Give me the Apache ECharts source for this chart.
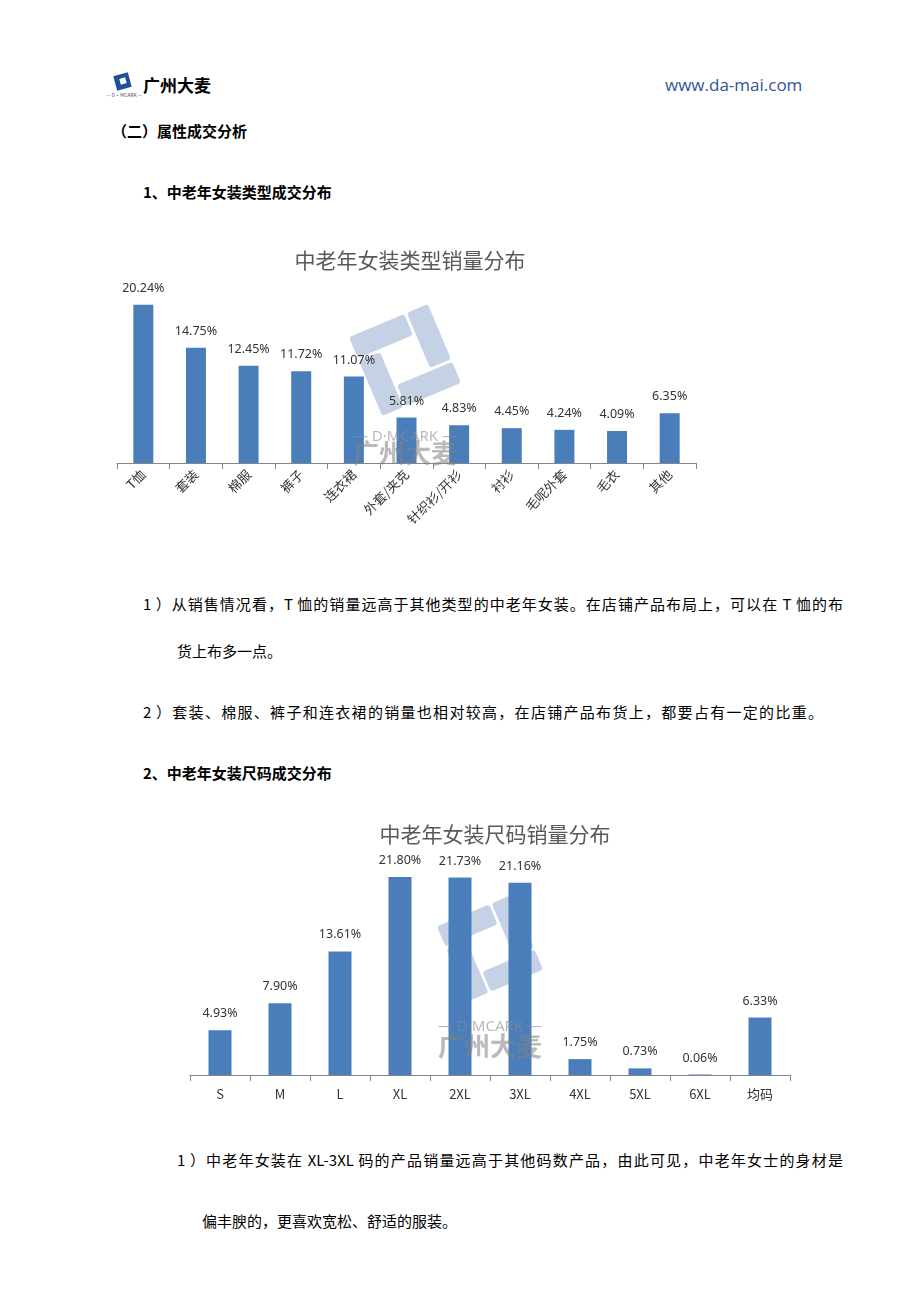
<!DOCTYPE html>
<html>
<head>
<meta charset="utf-8">
<script src="https://cdn.jsdelivr.net/npm/echarts@6/dist/echarts.min.js"></script>
<style>
  html, body { margin: 0; padding: 0; background: #ffffff; }
  body { width: 920px; height: 1302px; position: relative; overflow: hidden;
         font-family: "Noto Sans CJK SC", "Noto Sans", sans-serif; color: #000; }
  .abs { position: absolute; white-space: nowrap; }
  .h { font-size: 15px; font-weight: bold; line-height: 20px; }
  .p { font-size: 15px; line-height: 20px; }
  .j { white-space: normal; text-align: justify; text-align-last: justify; height: 20px; overflow: hidden; }
  #c1 { position: absolute; left: 100px; top: 235px; width: 620px; height: 320px; }
  #c2 { position: absolute; left: 180px; top: 800px; width: 630px; height: 310px; }
</style>
</head>
<body>
<!-- header -->
<div class="abs" style="left:114px;top:73px;width:17px;height:17px;">
  <div style="position:absolute;left:1px;top:1px;width:15px;height:15px;transform:rotate(-15deg);background:#1f4e9a;"></div>
  <div style="position:absolute;left:6px;top:5px;width:6px;height:6px;transform:rotate(-15deg);background:#fff;"></div>
</div>
<div class="abs" style="left:106px;top:92px;font-size:5px;line-height:6px;color:#555;">— D·MCARK —</div>
<div class="abs" style="left:143px;top:73px;font-size:17px;font-weight:bold;line-height:24px;">广州大麦</div>
<div class="abs" style="left:665px;top:73px;font-size:17px;line-height:24px;color:#2f5597;font-family:'Open Sans','Noto Sans',sans-serif;">www.da-mai.com</div>

<div class="abs h" style="left:112px;top:121px;">（二）属性成交分析</div>
<div class="abs h" style="left:143px;top:182px;">1、中老年女装类型成交分布</div>

<div id="c1"></div>

<div class="abs p j" style="left:143px;top:594px;width:700px;">1 ）从销售情况看，T 恤的销量远高于其他类型的中老年女装。在店铺产品布局上，可以在 T 恤的布</div>
<div class="abs p" style="left:177px;top:641px;">货上布多一点。</div>
<div class="abs p j" style="left:143px;top:702px;width:680px;">2 ）套装、棉服、裤子和连衣裙的销量也相对较高，在店铺产品布货上，都要占有一定的比重。</div>
<div class="abs h" style="left:143px;top:763px;">2、中老年女装尺码成交分布</div>

<div id="c2"></div>

<div class="abs p j" style="left:177px;top:1150px;width:666px;">1 ）中老年女装在 XL-3XL 码的产品销量远高于其他码数产品，由此可见，中老年女士的身材是</div>
<div class="abs p" style="left:202px;top:1211px;">偏丰腴的，更喜欢宽松、舒适的服装。</div>

<script>
// ---------- data ----------
var typeTitle = '中老年女装类型销量分布';
var typeCategories = ['T恤', '套装', '棉服', '裤子', '连衣裙', '外套/夹克', '针织衫/开衫', '衬衫', '毛呢外套', '毛衣', '其他'];
var typeValues = [20.24, 14.75, 12.45, 11.72, 11.07, 5.81, 4.83, 4.45, 4.24, 4.09, 6.35];

var sizeTitle = '中老年女装尺码销量分布';
var sizeCategories = ['S', 'M', 'L', 'XL', '2XL', '3XL', '4XL', '5XL', '6XL', '均码'];
var sizeValues = [4.93, 7.90, 13.61, 21.80, 21.73, 21.16, 1.75, 0.73, 0.06, 6.33];

// ---------- helpers ----------
function watermark(cx, cy, scale, textY, cnY) {
  var s = scale;
  var fill = 'rgba(150,172,205,0.55)';
  return [
    {
      type: 'group', x: cx, y: cy, rotation: 0.4, silent: true, z: 100,
      children: [
        { type: 'rect', shape: { x: -45 * s, y: -45 * s, width: 63 * s, height: 24 * s, r: 3 }, style: { fill: fill } },
        { type: 'rect', shape: { x: 21 * s, y: -45 * s, width: 24 * s, height: 63 * s, r: 3 }, style: { fill: fill } },
        { type: 'rect', shape: { x: -18 * s, y: 21 * s, width: 63 * s, height: 24 * s, r: 3 }, style: { fill: fill } },
        { type: 'rect', shape: { x: -45 * s, y: -18 * s, width: 24 * s, height: 63 * s, r: 3 }, style: { fill: fill } }
      ]
    },
    {
      type: 'text', x: cx, y: textY, silent: true, z: 100,
      style: { text: '— D·MCARK —', fill: 'rgba(140,140,140,0.6)', font: '15px "Noto Sans", sans-serif', align: 'center', verticalAlign: 'middle' }
    },
    {
      type: 'text', x: cx, y: cnY, silent: true, z: 100,
      style: { text: '广州大麦', fill: 'rgba(130,130,130,0.55)', font: 'bold 26px "Noto Sans CJK SC", sans-serif', align: 'center', verticalAlign: 'middle' }
    }
  ];
}

function barOption(title, cats, vals, cfg) {
  return {
    animation: false,
    title: {
      text: title, left: 'center', top: cfg.titleTop,
      textStyle: { fontSize: 21, fontWeight: 'normal', color: '#595959', fontFamily: '"Noto Sans CJK SC", sans-serif' }
    },
    grid: { left: cfg.left, top: cfg.top, width: cfg.width, height: cfg.height, containLabel: false },
    xAxis: {
      type: 'category', data: cats,
      axisLine: { lineStyle: { color: '#868686', width: 1 } },
      axisTick: { show: true, length: 6, lineStyle: { color: '#868686' } },
      axisLabel: {
        interval: 0, rotate: cfg.rotate, margin: cfg.labelMargin,
        fontSize: cfg.labelSize, color: '#333333', fontFamily: '"Noto Sans CJK SC", "Noto Sans", sans-serif'
      }
    },
    yAxis: {
      type: 'value', min: 0, max: cfg.max, show: false,
      splitLine: { show: false }
    },
    series: [{
      type: 'bar', data: vals, barWidth: cfg.barWidth,
      itemStyle: { color: '#4a7ebb' },
      label: {
        show: true, position: 'top', distance: 10,
        formatter: function (p) { return p.value.toFixed(2) + '%'; },
        fontSize: 12.5, color: '#333333', fontFamily: '"Noto Sans", sans-serif'
      }
    }],
    graphic: cfg.graphic
  };
}

var c1 = echarts.init(document.getElementById('c1'), null, { renderer: 'canvas' });
c1.setOption(barOption(typeTitle, typeCategories, typeValues, {
  titleTop: 10, left: 17, top: 56, width: 579, height: 172, max: 22,
  rotate: 45, labelMargin: 9, labelSize: 13, barWidth: 20,
  graphic: watermark(305, 125, 0.95, 202, 218)
}));

var c2 = echarts.init(document.getElementById('c2'), null, { renderer: 'canvas' });
c2.setOption(barOption(sizeTitle, sizeCategories, sizeValues, {
  titleTop: 19, left: 10, top: 57, width: 600, height: 218, max: 24,
  rotate: 0, labelMargin: 13, labelSize: 13, barWidth: 23,
  graphic: watermark(310, 148, 0.9, 227, 246)
}));
</script>
</body>
</html>
